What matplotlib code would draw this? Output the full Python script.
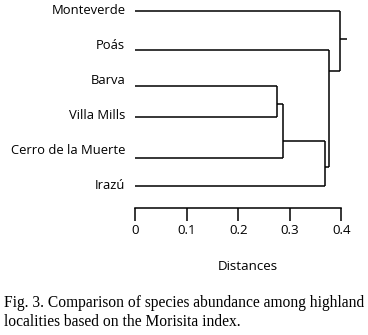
import numpy as np
import matplotlib
matplotlib.use("Agg")
import matplotlib.pyplot as plt

# localities, top to bottom as in the dendrogram
localities = ["Monteverde", "Poás", "Barva", "Villa Mills", "Cerro de la Muerte", "Irazú"]
# merges: (left member, right member, distance); members >= 6 are earlier merges
merges = [(2, 3, 0.276),
          (6, 4, 0.287),
          (7, 5, 0.369),
          (1, 8, 0.377),
          (0, 9, 0.398)]
root_end = 0.411
ticks = [0, 0.1, 0.2, 0.3, 0.4]
tick_labels = ["0", "0.1", "0.2", "0.3", "0.4"]

# layout in pixel rows (figure is 368x335 at dpi 100)
W, H = 368, 335
x0_px, px_per_unit = 135.3, 515.0
label_rows = np.linspace(11, 185.7, 6)
line_rows = [11.3, 49.7, 86.3, 117, 158.3, 186]
stub_rows = [104.3, 141.3, 167, 71, 39]   # where each merge hands up its stem
axis_row = 208

fig = plt.figure(figsize=(W / 100, H / 100), dpi=100)
ax = fig.add_axes([0, 0, 1, 1])
ax.set_xlim(-x0_px / px_per_unit, (W - x0_px) / px_per_unit)
ax.set_ylim(H, 0)

lw = 1.1
col = "black"
sans = "Open Sans"

# node positions: (x, y) where each node's stem leaves
node_x = {i: 0.0 for i in range(len(localities))}
node_y = {i: line_rows[i] for i in range(len(localities))}
for k, (a, b, d) in enumerate(merges):
    for c in (a, b):
        ax.plot([node_x[c], d], [node_y[c], node_y[c]], color=col, lw=lw,
                solid_capstyle="butt")
    ax.plot([d, d], [node_y[a], node_y[b]], color=col, lw=lw, solid_capstyle="butt")
    nid = len(localities) + k
    node_x[nid] = d
    node_y[nid] = stub_rows[k]
last = len(localities) + len(merges) - 1
ax.plot([node_x[last], root_end], [node_y[last], node_y[last]], color=col, lw=lw,
        solid_capstyle="butt")

for name, r in zip(localities, label_rows):
    ax.text(-10 / px_per_unit, r, name, ha="right", va="center",
            fontsize=9.4, family=sans, color=col)

# distance axis
for s in ["top", "right", "left"]:
    ax.spines[s].set_visible(False)
ax.spines["bottom"].set_position(("data", axis_row))
ax.spines["bottom"].set_bounds(0, 0.4)
ax.spines["bottom"].set_linewidth(lw)
ax.spines["bottom"].set_color(col)
ax.set_yticks([])
ax.set_xticks(ticks)
ax.set_xticklabels(tick_labels, fontsize=9.6, family=sans, color=col)
ax.tick_params(axis="x", direction="out", length=9.4, width=lw, color=col, pad=2.0)
ax.patch.set_visible(False)

ax.text((248 - x0_px) / px_per_unit, 266, "Distances", ha="center", va="center",
        fontsize=9.6, family=sans, color=col)

fig.text(4 / W, 1 - 303 / H, "Fig. 3. Comparison of species abundance among highland",
         ha="left", va="center", fontsize=11.2, family="Liberation Serif", color=col)
fig.text(4 / W, 1 - 322 / H, "localities based on the Morisita index.",
         ha="left", va="center", fontsize=11.2, family="Liberation Serif", color=col)

fig.savefig("out.png", dpi=100, facecolor="white")
